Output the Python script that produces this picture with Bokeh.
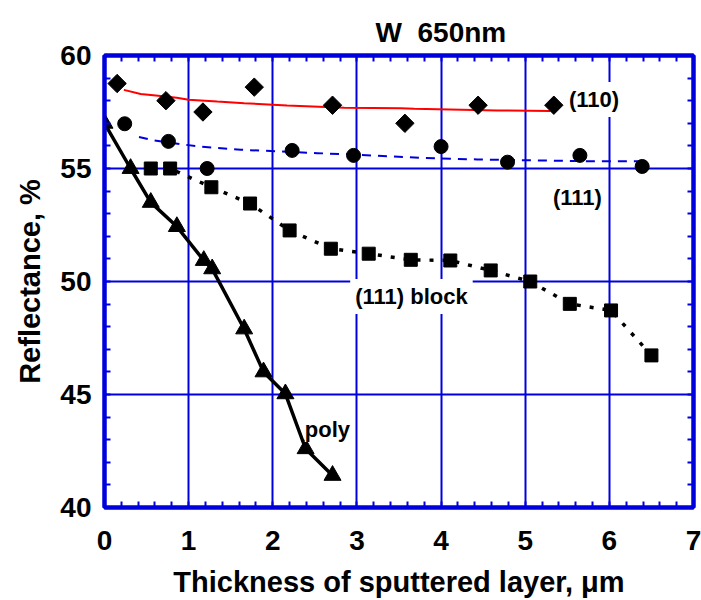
from bokeh.plotting import figure
from bokeh.models import FixedTicker, LinearAxis, Label, Range1d
from bokeh.embed import file_html
from bokeh.resources import INLINE
import numpy as np

FONT = "Liberation Sans"
BLUE = "#0000DD"

# (110) diamonds and fit line
x110 = [0.15, 0.73, 1.17, 1.78, 2.71, 3.57, 4.44, 5.34]
y110 = [58.76, 58.0, 57.5, 58.6, 57.8, 57.0, 57.8, 57.8]
fit110_x = [0.23, 0.43, 0.61, 0.86, 1.0, 1.34, 1.66, 2.17, 2.85, 3.52, 3.68, 4.67, 5.3]
fit110_y = [58.48, 58.3, 58.23, 58.13, 58.04, 57.96, 57.89, 57.79, 57.69, 57.67, 57.64, 57.57, 57.54]

# (111) circles and fit line
x111 = [0.24, 0.76, 1.22, 2.23, 2.96, 4.0, 4.79, 5.65, 6.39]
y111 = [56.98, 56.2, 55.0, 55.8, 55.58, 55.97, 55.28, 55.58, 55.09]
fit111_x = [0.41, 0.59, 0.94, 1.14, 1.62, 2.53, 3.4, 3.76, 4.43, 5.82, 6.37]
fit111_y = [56.39, 56.24, 56.06, 55.97, 55.83, 55.68, 55.54, 55.47, 55.4, 55.32, 55.32]

# (111) block squares
xblk = [0.55, 0.78, 1.27, 1.73, 2.2, 2.69, 3.14, 3.64, 4.11, 4.59, 5.06, 5.53, 6.02, 6.5]
yblk = [55.0, 55.0, 54.17, 53.45, 52.26, 51.45, 51.23, 50.96, 50.93, 50.49, 50.0, 49.01, 48.72, 46.73]

# poly triangles
xpoly = [0.0, 0.31, 0.55, 0.86, 1.18, 1.28, 1.66, 1.89, 2.15, 2.39, 2.71]
ypoly = [57.0, 55.0, 53.5, 52.43, 50.93, 50.56, 47.9, 46.0, 45.03, 42.6, 41.42]

x_major = [0, 1, 2, 3, 4, 5, 6, 7]
y_major = [40, 45, 50, 55, 60]
x_minor = [round(0.2 * i, 1) for i in range(36)]
y_minor = list(range(40, 61))

p = figure(width=701, height=600, x_range=Range1d(0, 7), y_range=Range1d(40, 60),
           output_backend="svg", toolbar_location=None,
           min_border_left=104, min_border_right=8, min_border_top=55, min_border_bottom=93)
p.background_fill_color = "white"
p.border_fill_color = "white"
p.outline_line_color = BLUE
p.outline_line_width = 4

p.title.text = "W\u00a0\u00a0650nm"
p.title.text_font = FONT
p.title.text_font_style = "bold"
p.title.text_font_size = "28px"
p.title.text_color = "black"
p.title.align = "left"
p.title.offset = 271
p.title.standoff = 15

for ax, ticks, minor in ((p.xaxis[0], x_major, x_minor), (p.yaxis[0], y_major, y_minor)):
    ax.ticker = FixedTicker(ticks=ticks, minor_ticks=minor)
    ax.axis_line_color = BLUE
    ax.axis_line_width = 4
    ax.major_tick_line_color = BLUE
    ax.major_tick_in = 0
    ax.major_tick_out = 0
    ax.minor_tick_line_color = BLUE
    ax.minor_tick_line_width = 2
    ax.minor_tick_in = 6
    ax.minor_tick_out = 0
    ax.major_label_text_font = FONT
    ax.major_label_text_font_style = "bold"
    ax.major_label_text_font_size = "28px"
    ax.major_label_text_color = "black"
    ax.axis_label_text_font = FONT
    ax.axis_label_text_font_style = "bold"
    ax.axis_label_text_font_size = "29px"
    ax.axis_label_text_color = "black"

p.xaxis[0].axis_label = "Thickness of sputtered layer, \u03bcm"
p.yaxis[0].axis_label = "Reflectance, %"
p.xaxis[0].major_label_standoff = 23
p.xaxis[0].axis_label_standoff = 13
p.yaxis[0].major_label_standoff = 13
p.yaxis[0].axis_label_standoff = 11

for loc, minor in (("above", x_minor), ("right", y_minor)):
    ax = LinearAxis(ticker=FixedTicker(ticks=[], minor_ticks=minor))
    ax.axis_line_color = BLUE
    ax.axis_line_width = 4
    ax.major_tick_in = 0
    ax.major_tick_out = 0
    ax.minor_tick_line_color = BLUE
    ax.minor_tick_line_width = 2
    ax.minor_tick_in = 6
    ax.minor_tick_out = 0
    ax.major_label_standoff = 0
    ax.axis_label_standoff = 0
    p.add_layout(ax, loc)

for g in (p.xgrid[0], p.ygrid[0]):
    g.grid_line_color = BLUE
    g.grid_line_width = 2
p.xgrid[0].ticker = FixedTicker(ticks=x_major)
p.ygrid[0].ticker = FixedTicker(ticks=y_major)

# fit lines and connecting lines
p.line(fit110_x, fit110_y, line_color="red", line_width=2)
p.line(fit111_x, fit111_y, line_color=BLUE, line_width=2, line_dash="9 7")
p.line(xblk, yblk, line_color="black", line_width=3.5, line_dash="4 9")
p.line(xpoly, ypoly, line_color="black", line_width=3.5)

# markers
p.scatter(x110, y110, marker="square", size=13, angle=np.pi / 4, fill_color="black", line_color="black")
p.scatter(x111, y111, marker="circle", size=14, fill_color="black", line_color="black")
p.scatter(xblk, yblk, marker="square", size=13, fill_color="black", line_color="black")
p.scatter(xpoly, ypoly, marker="triangle", size=17, fill_color="black", line_color="black")

def lab(x, y, text, size="22px", pad=5):
    p.add_layout(Label(x=x, y=y, text=text, text_font=FONT, text_font_style="bold",
                       text_font_size=size, text_align="left", text_baseline="middle",
                       text_color="black", background_fill_color="white", padding=pad))

lab(5.46, 58.05, "(110)")
lab(5.27, 53.72, "(111)")
lab(2.92, 49.34, "(111) block")
lab(2.38, 43.45, "poly", pad=0)

open("out.html", "w").write(file_html(p, INLINE))
